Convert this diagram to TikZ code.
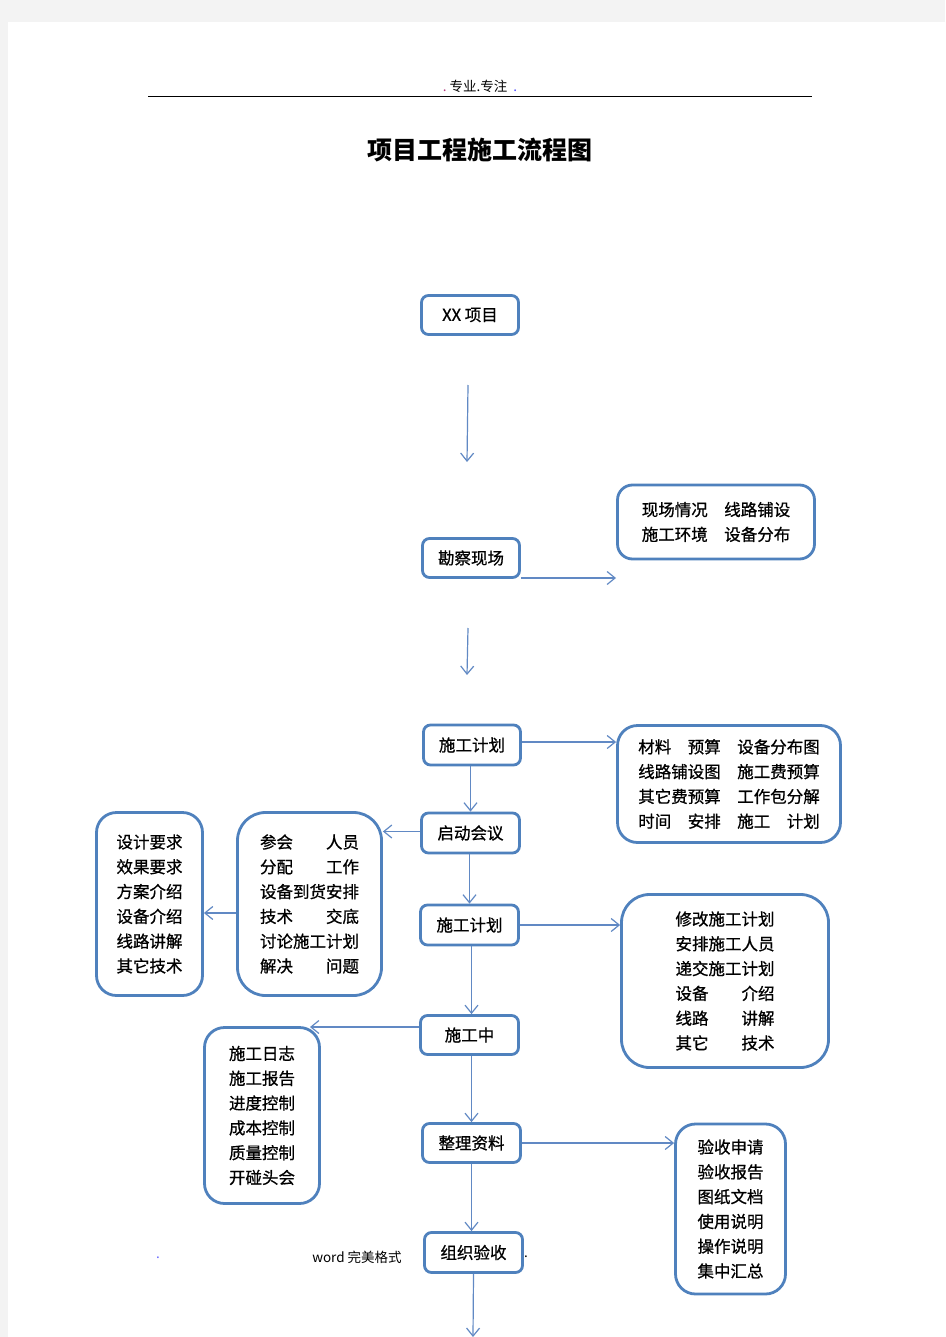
\documentclass[tikz,border=0pt]{standalone}
\usepackage{fontspec}
\setmainfont{Noto Sans CJK SC}
\newfontfamily\boxfont[RawFeature={embolden=0.8}]{Noto Sans CJK SC}
\usetikzlibrary{arrows.meta,calc}
\definecolor{bgray}{HTML}{F3F3F3}
\definecolor{boxblue}{HTML}{4F81BD}
\definecolor{linkblue}{HTML}{6189C4}
\begin{document}
\begin{tikzpicture}[x=1pt,y=-1pt,
  box/.style={draw=boxblue, line width=2.8pt, rounded corners=#1, fill=white, align=center,
    inner sep=0pt, font=\boxfont\fontsize{16.5}{24.8}\selectfont},
  box/.default=7pt,
  link/.style={draw=linkblue, line width=1.2pt,
    -{Straight Barb[length=8pt,width=13pt,line width=1.2pt]}},
  small/.style={inner sep=0pt, font=\fontsize{13.5}{16}\selectfont}]
\useasboundingbox (0,0) rectangle (945,1337);
\fill[bgray] (0,0) rectangle (945,1337);
\fill[white] (8,22) rectangle (945,1337);

% header
\node[small] (hdr) at (480,86) {{\color{magenta!70!black}.}\ 专业.专注\ \ {\color{blue!70}.}};
\coordinate (hl) at (148,96);
\coordinate (hr) at (812,96);
\draw[line width=0.9pt] (hl) -- (hr);

% title
\node[inner sep=0pt, font=\fontsize{25}{30}\selectfont\bfseries] (title) at (480,150) {项目工程施工流程图};

% boxes
\node[box, minimum width=97pt, minimum height=39pt] (xx) at (470,315) {XX 项目};
\node[box, minimum width=97pt, minimum height=39pt] (kc) at (471,558) {勘察现场};
\node[box=15pt, minimum width=197pt, minimum height=74pt] (xc) at (716,522)
  {现场情况\hspace{1em}线路铺设\\施工环境\hspace{1em}设备分布};
\node[box, minimum width=97pt, minimum height=40pt] (jh1) at (472,745) {施工计划};
\node[box=20pt, minimum width=223pt, minimum height=117pt] (cl) at (729,784)
  {材料\hspace{1em}预算\hspace{1em}设备分布图\\线路铺设图\hspace{1em}施工费预算\\其它费预算\hspace{1em}工作包分解\\时间\hspace{1em}安排\hspace{1em}施工\hspace{1em}计划};
\node[box, minimum width=98pt, minimum height=40pt] (qd) at (470.5,833) {启动会议};
\node[box=28pt, minimum width=144pt, minimum height=183pt] (ch) at (309.5,904)
  {参会\hspace{2em}人员\\分配\hspace{2em}工作\\设备到货安排\\技术\hspace{2em}交底\\讨论施工计划\\解决\hspace{2em}问题};
\node[box=20pt, minimum width=106pt, minimum height=183pt] (sj) at (149.5,904)
  {设计要求\\效果要求\\方案介绍\\设备介绍\\线路讲解\\其它技术};
\node[box, minimum width=98pt, minimum height=40pt] (jh2) at (469.5,925) {施工计划};
\node[box=28pt, minimum width=207pt, minimum height=173pt] (xg) at (725,981)
  {修改施工计划\\安排施工人员\\递交施工计划\\设备\hspace{2em}介绍\\线路\hspace{2em}讲解\\其它\hspace{2em}技术};
\node[box, minimum width=98pt, minimum height=39pt] (sgz) at (469.5,1035) {施工中};
\node[box=20pt, minimum width=115pt, minimum height=176pt] (rz) at (262,1115.5)
  {施工日志\\施工报告\\进度控制\\成本控制\\质量控制\\开碰头会};
\node[box, minimum width=98pt, minimum height=39pt] (zl) at (471.5,1143) {整理资料};
\node[box=20pt, minimum width=110pt, minimum height=170pt] (ys) at (730.5,1209)
  {验收申请\\验收报告\\图纸文档\\使用说明\\操作说明\\集中汇总};
\node[box, minimum width=98pt, minimum height=40pt] (zz) at (473.5,1252.5) {组织验收};

% footer
\node[small, text=blue!60] (fd1) at (158,1258) {.};
\node[small] (ft) at (357,1257) {word 完美格式};
\node[small] (fd2) at (526,1257) {.};

% free ends
\coordinate (a1s) at (468,385);
\coordinate (a1e) at (467,462);
\coordinate (a2s) at (468,628);
\coordinate (a2e) at (467,675);
\coordinate (kcend) at (616,578);
\coordinate (rzend) at (310,1027);
\coordinate (bot) at (473,1337);

% connectors
\draw[link] (a1s) -- (a1e);
\draw[link] (a2s) -- (a2e);
\draw[link] (kc.east |- kcend) -- (kcend);
\draw[link] ([yshift=3pt]jh1.east) -- ([yshift=3pt]jh1.east -| cl.west);
\draw[link] (qd.north |- jh1.south) -- (qd.north);
\draw[link] ([yshift=1.5pt]qd.west) -- ([yshift=1.5pt]qd.west -| ch.east);
\draw[link] ([yshift=-9pt]ch.west) -- ([yshift=-9pt]ch.west -| sj.east);
\draw[link] (jh2.north |- qd.south) -- (jh2.north);
\draw[link] (jh2.east) -- (jh2.east -| xg.west);
\draw[link] (zl.north |- jh2.south) -- (zl.north |- sgz.north);
\draw[link] ([yshift=8pt]sgz.west) -- (rzend);
\draw[link] (zl.north |- sgz.south) -- (zl.north);
\draw[link] (zl.east) -- (zl.east -| ys.west);
\draw[link] (zl.south) -- (zl.south |- zz.north);
\draw[link] (zz.south) -- (bot);
\end{tikzpicture}
\end{document}
